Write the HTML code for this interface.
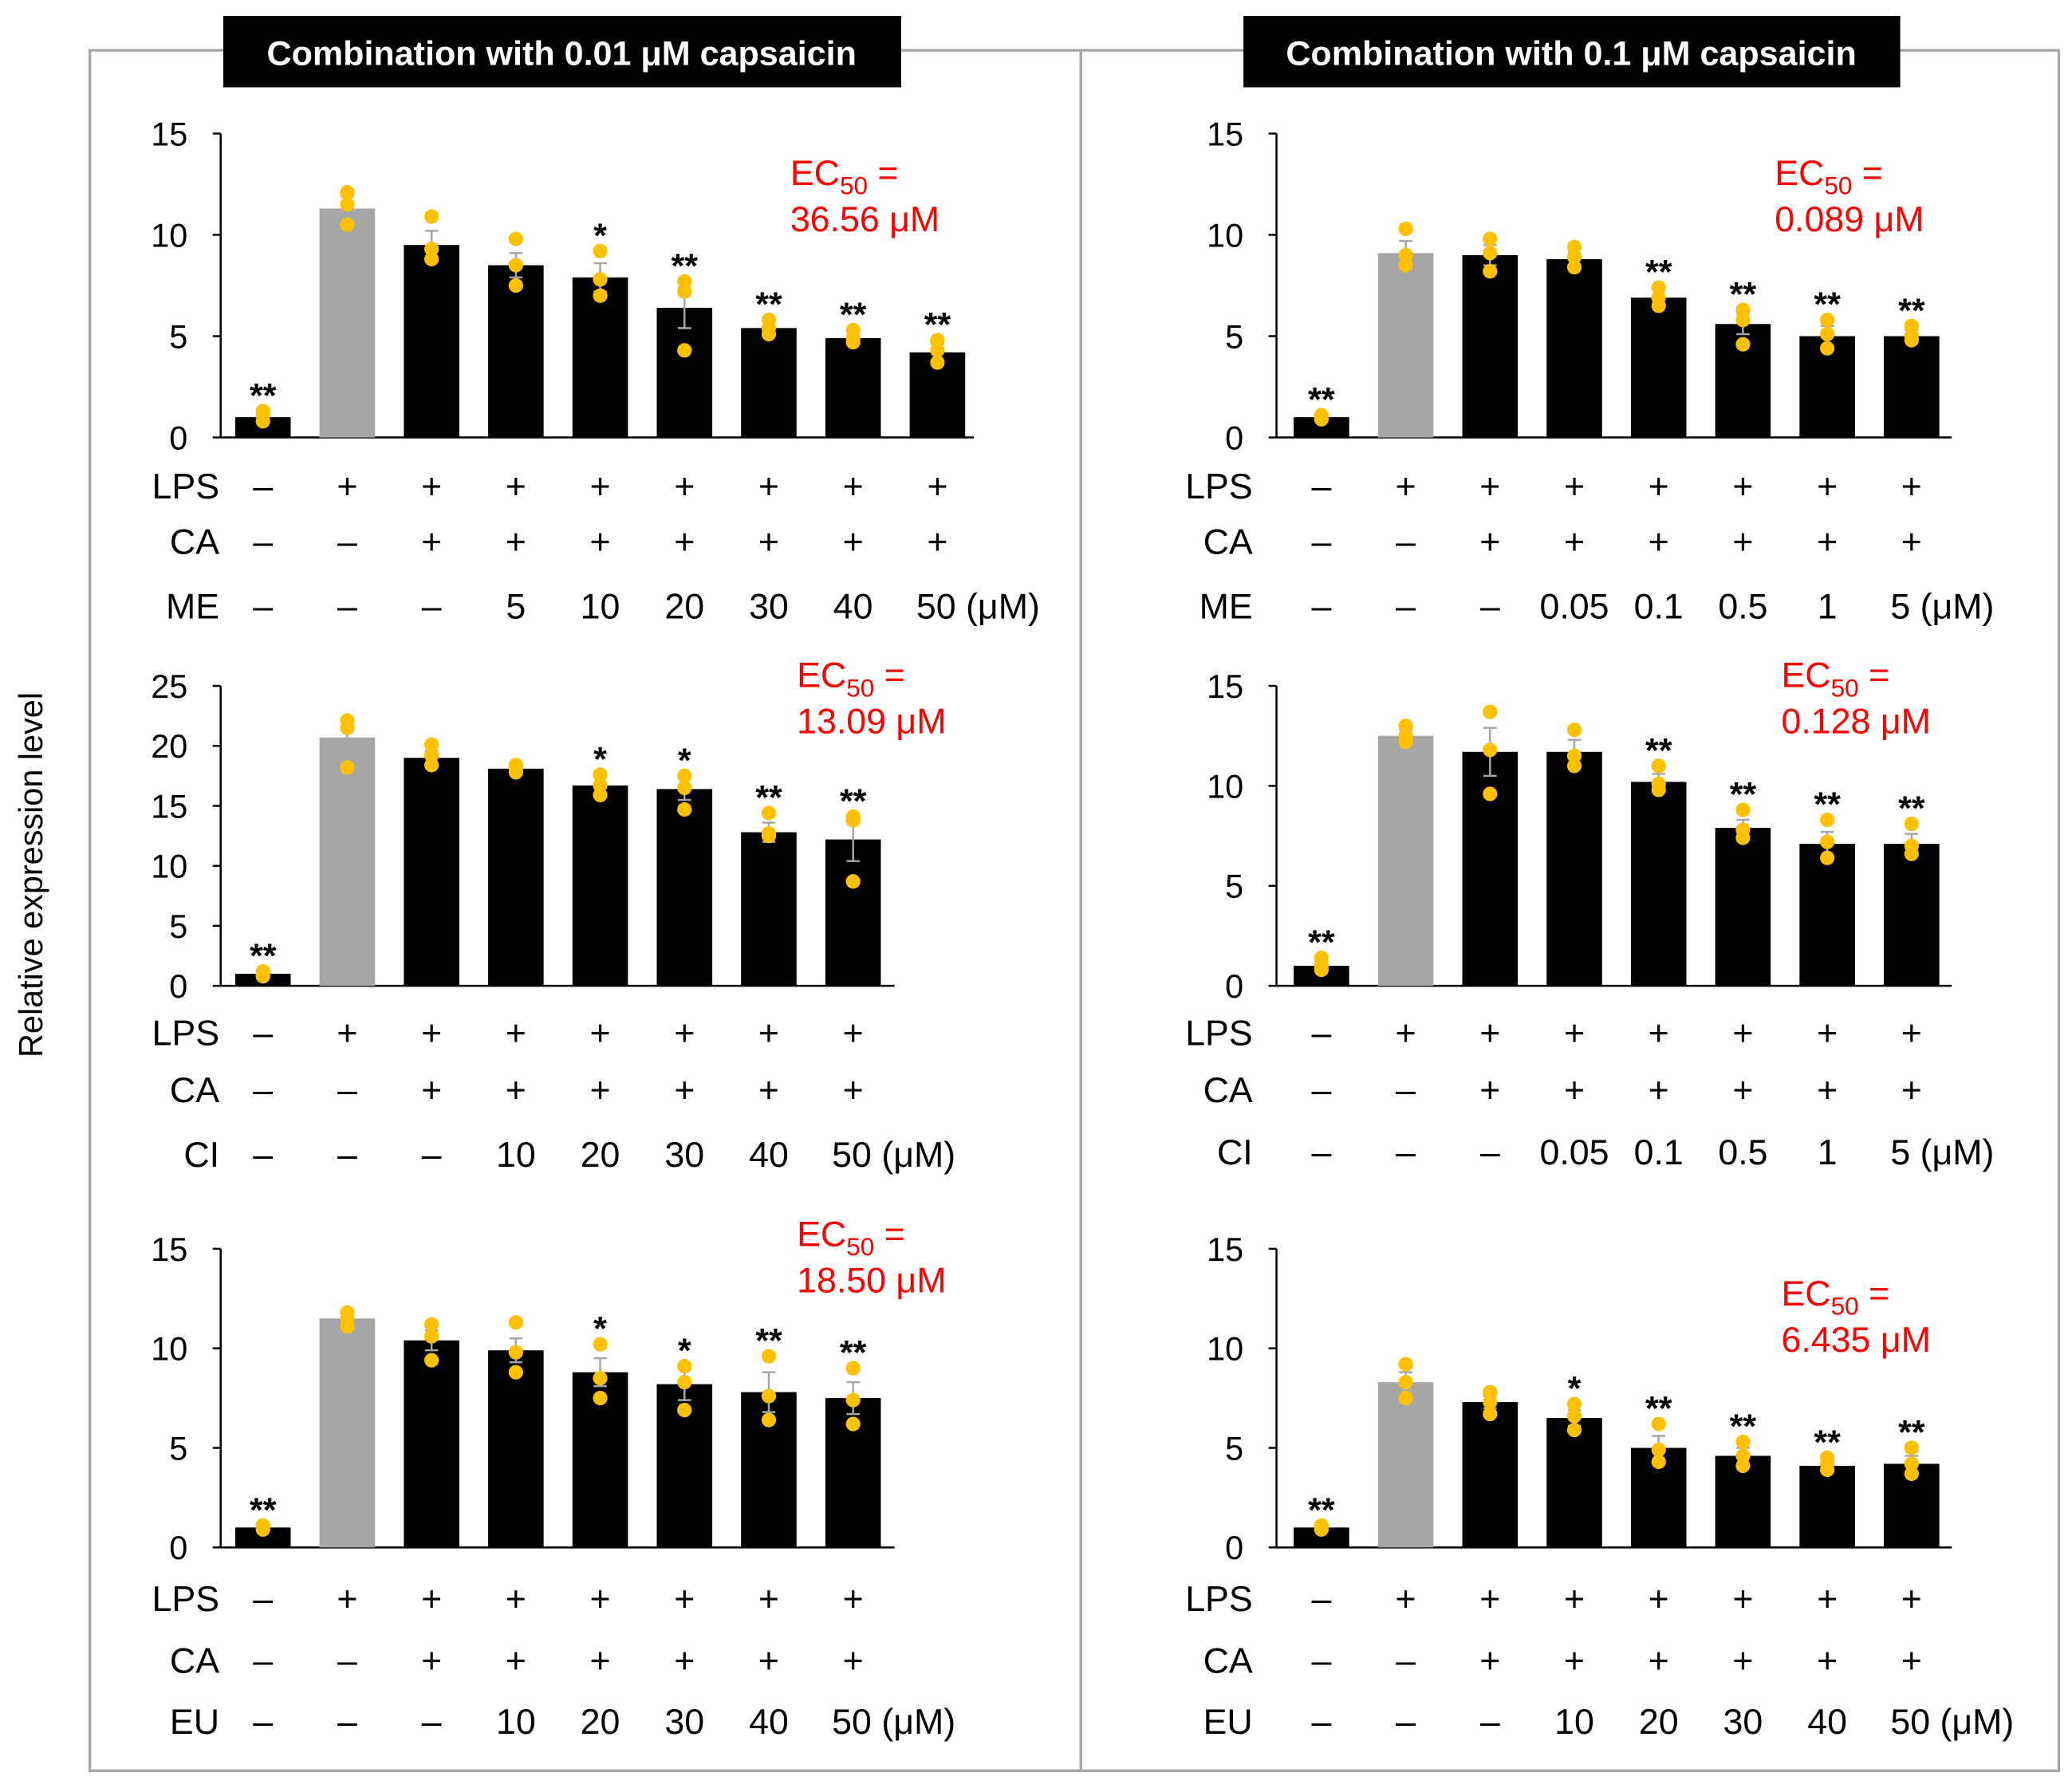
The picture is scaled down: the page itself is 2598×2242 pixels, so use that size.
<!DOCTYPE html>
<html><head><meta charset="utf-8"><style>
html,body{margin:0;padding:0;background:#fff;}
svg{display:block;font-family:"Liberation Sans",Arial,sans-serif;}
</style></head><body>
<svg id="fig" width="2598" height="2242" viewBox="0 0 1568 1353">
<rect x="68" y="38" width="750" height="1302" fill="none" stroke="#a6a6a6" stroke-width="2"/>
<rect x="818" y="38" width="740" height="1302" fill="none" stroke="#a6a6a6" stroke-width="2"/>
<rect x="169" y="12" width="513" height="54" fill="#000"/>
<text x="425" y="49" fill="#fff" font-size="26" font-weight="bold" text-anchor="middle">Combination with 0.01 μM capsaicin</text>
<rect x="941" y="12" width="497" height="54" fill="#000"/>
<text x="1189" y="49" fill="#fff" font-size="26" font-weight="bold" text-anchor="middle">Combination with 0.1 μM capsaicin</text>
<text transform="translate(32,662) rotate(-90)" font-size="25" text-anchor="middle">Relative expression level</text>
<g id="charts"></g>
</svg>
<script>
// Panel A: ME, 0.01 capsaicin
const aValues=[1,11.3,9.5,8.5,7.9,6.4,5.4,4.9,4.2];
const aErrors=[0.2,0.6,0.7,0.6,0.7,1.0,0.3,0.3,0.4];
const aDots=[[0.8,1.1,1.3],[10.5,11.5,12.1],[8.8,9.3,10.9],[7.5,8.5,9.8],[7,7.8,9.2],[4.3,7.2,7.7],[5.1,5.4,5.8],[4.7,4.9,5.3],[3.7,4.3,4.8]];
const aSig=["**","","","","*","**","**","**","**"];
const aDose=["–","–","–","5","10","20","30","40","50 (μM)"];
const aTicks=[0,5,10,15];
// Panel B: CI, 0.01 capsaicin
const bValues=[1,20.7,19,18.1,16.7,16.4,12.8,12.2];
const bErrors=[0.2,1.0,0.6,0.3,0.7,0.9,0.8,1.8];
const bDots=[[0.8,1.0,1.2],[18.2,21.5,22.1],[18.4,19.2,20.1],[17.8,18.1,18.4],[15.9,16.7,17.6],[14.7,16.5,17.5],[12.5,12.7,14.4],[8.7,13.8,14.1]];
const bSig=["**","","","","*","*","**","**"];
const bDose=["–","–","–","10","20","30","40","50 (μM)"];
const bTicks=[0,5,10,15,20,25];
// Panel C: EU, 0.01 capsaicin
const cValues=[1,11.5,10.4,9.9,8.8,8.2,7.8,7.5];
const cErrors=[0.1,0.3,0.5,0.6,0.7,0.8,1.0,0.8];
const cDots=[[0.9,1.0,1.1],[11.1,11.5,11.8],[9.4,10.6,11.2],[8.8,9.8,11.3],[7.5,8.5,10.2],[6.9,8.3,9.1],[6.4,7.6,9.6],[6.2,7.4,9.0]];
const cSig=["**","","","","*","*","**","**"];
const cDose=["–","–","–","10","20","30","40","50 (μM)"];
const cTicks=[0,5,10,15];
// Panel D: ME, 0.1 capsaicin
const dValues=[1,9.1,9.0,8.8,6.9,5.6,5.0,5.0];
const dErrors=[0.1,0.6,0.5,0.3,0.4,0.5,0.5,0.3];
const dDots=[[0.9,1.0,1.1],[8.5,9.0,10.3],[8.2,9.1,9.8],[8.4,8.9,9.4],[6.5,6.9,7.4],[4.6,5.8,6.3],[4.4,5.1,5.8],[4.8,5.0,5.5]];
const dSig=["**","","","","**","**","**","**"];
const dDose=["–","–","–","0.05","0.1","0.5","1","5 (μM)"];
const dTicks=[0,5,10,15];
// Panel E: CI, 0.1 capsaicin
const eValues=[1,12.5,11.7,11.7,10.2,7.9,7.1,7.1];
const eErrors=[0.2,0.3,1.2,0.6,0.4,0.4,0.6,0.5];
const eDots=[[0.8,1.0,1.4],[12.2,12.5,13.0],[9.6,11.8,13.7],[11.0,11.5,12.8],[9.8,10.1,11.0],[7.4,7.8,8.8],[6.4,7.2,8.3],[6.6,7.0,8.1]];
const eSig=["**","","","","**","**","**","**"];
const eDose=["–","–","–","0.05","0.1","0.5","1","5 (μM)"];
const eTicks=[0,5,10,15];
// Panel F: EU, 0.1 capsaicin
const fValues=[1,8.3,7.3,6.5,5.0,4.6,4.1,4.2];
const fErrors=[0.1,0.5,0.3,0.4,0.6,0.4,0.2,0.4];
const fDots=[[0.9,1.0,1.1],[7.5,8.3,9.2],[6.7,7.3,7.8],[5.9,6.6,7.2],[4.3,4.9,6.2],[4.1,4.6,5.3],[3.9,4.2,4.5],[3.7,4.2,5.0]];
const fSig=["**","","","*","**","**","**","**"];
const fDose=["–","–","–","10","20","30","40","50 (μM)"];
const fTicks=[0,5,10,15];
const ecA=["EC","50"," =","36.56 μM"],ecB=["EC","50"," =","13.09 μM"],ecC=["EC","50"," =","18.50 μM"];
const ecD=["EC","50"," =","0.089 μM"],ecE=["EC","50"," =","0.128 μM"],ecF=["EC","50"," =","6.435 μM"];

const NS="http://www.w3.org/2000/svg";
const root=document.getElementById("charts");
function mk(tag,attrs,parent,txt){const e=document.createElementNS(NS,tag);for(const k in attrs)e.setAttribute(k,attrs[k]);if(txt!==undefined)e.textContent=txt;(parent||root).appendChild(e);return e;}

function panel(id,cfg){
  const g=mk("g",{});
  
  
  const max=cfg.ticks[cfg.ticks.length-1];
  const y=v=>cfg.y0-(v/max)*(cfg.y0-cfg.yTop);
  const x=i=>cfg.x0+i*cfg.step;
  const ax=mk("line",{x1:cfg.axX,y1:cfg.yTop,x2:cfg.axX,y2:cfg.y0,stroke:"#000","stroke-width":1.5},g);
  
  
  const bx=mk("line",{x1:cfg.axX,y1:cfg.y0,x2:cfg.axEnd,y2:cfg.y0,stroke:"#000","stroke-width":1.5},g);
  
  
  cfg.ticks.forEach(t=>{
    mk("line",{x1:cfg.axX-6,y1:y(t),x2:cfg.axX,y2:y(t),stroke:"#000","stroke-width":1.5},g);
    const tl=mk("text",{x:cfg.axX-25,y:y(t)+9,"font-size":25,"text-anchor":"end"},g,String(t));
    
    
  });
  cfg.values.forEach((v,i)=>{
    const b=mk("rect",{x:x(i)-21,y:y(v),width:42,height:cfg.y0-y(v),fill:i===1?"#a6a6a6":"#000"},g);
    
    
    const e=cfg.errors[i];
    const er=mk("path",{d:`M${x(i)},${y(v-e)}V${y(v+e)}M${x(i)-5},${y(v+e)}H${x(i)+5}M${x(i)-5},${y(v-e)}H${x(i)+5}`,stroke:"#a6a6a6","stroke-width":1.5,fill:"none"},g);
    
    
    cfg.dots[i].forEach(d=>{
      const c=mk("circle",{cx:x(i),cy:y(d),r:5.5,fill:"#ffc000"},g);
      
      
    });
    if(cfg.sig[i]){
      const top=Math.max(v+e,...cfg.dots[i]);
      const s=mk("text",{x:x(i),y:y(top)-3,"font-size":26,"text-anchor":"middle","font-weight":"bold"},g,cfg.sig[i]);
      
      
    }
  });
  const rows=[["LPS",cfg.values.map((_,i)=>i===0?"–":"+")],["CA",cfg.values.map((_,i)=>i<2?"–":"+")],[cfg.agent,cfg.dose]];
  rows.forEach((r,ri)=>{
    const ry=cfg.rows[ri];
    const l=mk("text",{x:cfg.labX,y:ry+9,"font-size":27,"text-anchor":"end"},g,r[0]);
    
    
    r[1].forEach((s,i)=>{
      const unit=s.indexOf("(")>0;
      const t=mk("text",{x:unit?x(i)-16:x(i),y:ry+9,"font-size":27,"text-anchor":unit?"start":"middle"},g,s);
      
      
    });
  });
  const ec=mk("text",{x:cfg.ecX,y:cfg.ecY,"font-size":27,fill:"#ff0000"},g);
  
  
  mk("tspan",{},ec,cfg.ec[0]);
  mk("tspan",{dy:7,"font-size":19},ec,cfg.ec[1]);
  mk("tspan",{dy:-7},ec,cfg.ec[2]);
  mk("tspan",{x:cfg.ecX,dy:35},ec,cfg.ec[3]);
}
const L={x0:199,step:63.8,axX:167,labX:166};
const R={x0:1000,step:63.8,axX:966,labX:948};
panel("chart-me-low",Object.assign({},L,{values:aValues,errors:aErrors,dots:aDots,sig:aSig,dose:aDose,ticks:aTicks,agent:"ME",y0:331,yTop:101,axEnd:737,rows:[368,410,459],ec:ecA,ecX:598,ecY:140}));
panel("chart-ci-low",Object.assign({},L,{values:bValues,errors:bErrors,dots:bDots,sig:bSig,dose:bDose,ticks:bTicks,agent:"CI",y0:746,yTop:519,axEnd:677,rows:[782,825,874],ec:ecB,ecX:603,ecY:520}));
panel("chart-eu-low",Object.assign({},L,{values:cValues,errors:cErrors,dots:cDots,sig:cSig,dose:cDose,ticks:cTicks,agent:"EU",y0:1171,yTop:945,axEnd:677,rows:[1210,1257,1303],ec:ecC,ecX:603,ecY:943}));
panel("chart-me-high",Object.assign({},R,{values:dValues,errors:dErrors,dots:dDots,sig:dSig,dose:dDose,ticks:dTicks,agent:"ME",y0:331,yTop:101,axEnd:1477,rows:[368,410,459],ec:ecD,ecX:1343,ecY:140}));
panel("chart-ci-high",Object.assign({},R,{values:eValues,errors:eErrors,dots:eDots,sig:eSig,dose:eDose,ticks:eTicks,agent:"CI",y0:746,yTop:519,axEnd:1477,rows:[782,825,872],ec:ecE,ecX:1348,ecY:520}));
panel("chart-eu-high",Object.assign({},R,{values:fValues,errors:fErrors,dots:fDots,sig:fSig,dose:fDose,ticks:fTicks,agent:"EU",y0:1171,yTop:945,axEnd:1477,rows:[1210,1257,1303],ec:ecF,ecX:1348,ecY:988}));
</script>
</body></html>
